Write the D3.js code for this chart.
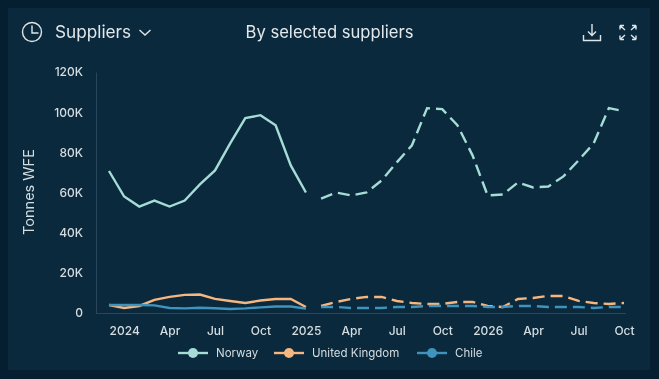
<!DOCTYPE html>
<html>
<head>
<meta charset="utf-8">
<script src="https://d3js.org/d3.v7.min.js"></script>
<style>
    html, body { margin: 0; padding: 0; background: #051f30; }
    svg { display: block; font-family: Inter, sans-serif; filter: blur(0.55px); }
    .domain { stroke: #29465a; }
    .tick text { fill: #d5dde0; }
</style>
</head>
<body>
<svg id="chart" width="659" height="379"></svg>
<script>
const months = [
    "2023-12", "2024-01", "2024-02", "2024-03", "2024-04", "2024-05", "2024-06", "2024-07", "2024-08",
    "2024-09", "2024-10", "2024-11", "2024-12", "2025-01", "2025-02", "2025-03", "2025-04", "2025-05",
    "2025-06", "2025-07", "2025-08", "2025-09", "2025-10", "2025-11", "2025-12", "2026-01", "2026-02",
    "2026-03", "2026-04", "2026-05", "2026-06", "2026-07", "2026-08", "2026-09", "2026-10"
];
const actualMonths = months.slice(0, 14);
const forecastMonths = months.slice(14);

const norwayActual = [70.7, 58, 53, 56, 53, 56, 64, 71, 84.5, 97, 98.5, 93.5, 73.5, 60];
const norwayForecast = [57, 60, 58.5, 60, 66, 75, 83.5, 102, 101.5, 93.5, 78.5, 58.5, 59, 65, 62.5, 63, 68, 76, 84.5, 102, 100.5];
const ukActual = [4, 2.5, 3.5, 6.5, 8, 9, 9.2, 7, 6, 5, 6.2, 7, 7, 3];
const ukForecast = [3.5, 5.5, 7, 8, 8, 6, 5, 4.5, 4.5, 5.5, 5.5, 3.5, 3, 7, 7.5, 8.5, 8.5, 6, 5, 4.5, 5];
const chileActual = [4, 4, 4, 3.8, 2.5, 2.3, 2.6, 2.4, 2, 2.3, 2.8, 3.2, 3.2, 2.2];
const chileForecast = [3, 3, 2.5, 2.5, 2.5, 3, 3, 3.5, 3.5, 3.5, 3.5, 3, 3, 3.5, 3.5, 3, 3, 3, 2.5, 3, 3];

const seriesNames = ["Norway", "United Kingdom", "Chile"];
const seriesColors = ["#a5dcd6", "#f5b77f", "#3f93bd"];
const yTicks = [0, 20, 40, 60, 80, 100, 120];
const xTicks = ["2024-01", "2024-04", "2024-07", "2024-10", "2025-01", "2025-04", "2025-07", "2025-10", "2026-01", "2026-04", "2026-07", "2026-10"];
const xTickLabels = ["2024", "Apr", "Jul", "Oct", "2025", "Apr", "Jul", "Oct", "2026", "Apr", "Jul", "Oct"];

const svg = d3.select("#chart");
const textColor = "#d5dde0";

svg.append("rect")
    .attr("x", 8).attr("y", 8).attr("width", 642).attr("height", 362)
    .attr("fill", "#0a293d");

const x = d3.scalePoint().domain(months).range([109, 624]);
const y = d3.scaleLinear().domain([0, 120]).range([313, 72]);

// Axes
const yAxis = d3.axisLeft(y)
    .tickValues(yTicks)
    .tickSize(0)
    .tickPadding(13)
    .tickFormat(d => d === 0 ? "0" : d + "K");
const yG = svg.append("g").attr("transform", "translate(96,0)").call(yAxis);
yG.selectAll("text").style("font-size", "12px").style("font-weight", 500).style("font-family", "Inter, sans-serif");

const xAxis = d3.axisBottom(x)
    .tickValues(xTicks)
    .tickSize(0)
    .tickPadding(13)
    .tickFormat(d => xTickLabels[xTicks.indexOf(d)]);
const xG = svg.append("g").attr("transform", "translate(0,313)").call(xAxis);
xG.selectAll("text").style("font-size", "12px").style("font-weight", 500).style("font-family", "Inter, sans-serif");
xG.select(".domain").attr("d", "M96,0.5H626");

svg.append("text")
    .attr("transform", "translate(34,192) rotate(-90)")
    .attr("text-anchor", "middle")
    .attr("fill", textColor)
    .style("font-size", "14.5px")
    .text("Tonnes WFE");

// Lines
const line = d3.line()
    .x(d => x(d.month))
    .y(d => y(d.value));

function drawLine(monthList, values, color, dashed) {
    svg.append("path")
        .datum(monthList.map((m, i) => ({ month: m, value: values[i] })))
        .attr("fill", "none")
        .attr("stroke", color)
        .attr("stroke-width", 2.4)
        .attr("stroke-dasharray", dashed ? "12 6" : null)
        .attr("d", line);
}

drawLine(actualMonths, ukActual, seriesColors[1], false);
drawLine(actualMonths, chileActual, seriesColors[2], false);
drawLine(actualMonths, norwayActual, seriesColors[0], false);
drawLine(forecastMonths, ukForecast, seriesColors[1], true);
drawLine(forecastMonths, chileForecast, seriesColors[2], true);
drawLine(forecastMonths, norwayForecast, seriesColors[0], true);

// Legend
const legendX = d3.scaleOrdinal().domain(seriesNames).range([178, 274, 417]);
const legend = svg.selectAll(".legend-item")
    .data(seriesNames)
    .enter()
    .append("g")
    .attr("class", "legend-item")
    .attr("transform", d => `translate(${legendX(d)},353)`);
legend.append("line")
    .attr("x2", 30)
    .attr("stroke", (d, i) => seriesColors[i])
    .attr("stroke-width", 2.4);
legend.append("circle")
    .attr("cx", 15)
    .attr("r", 5)
    .attr("fill", (d, i) => seriesColors[i]);
legend.append("text")
    .attr("x", 38)
    .attr("dy", "0.35em")
    .attr("fill", textColor)
    .style("font-size", "11.5px")
    .text(d => d);

// Header
svg.append("text")
    .attr("x", 55).attr("y", 38)
    .attr("fill", "#e3e8ea")
    .style("font-size", "17.2px")
    .text("Suppliers");
svg.append("text")
    .attr("x", 329.5).attr("y", 38)
    .attr("text-anchor", "middle")
    .attr("fill", "#e3e8ea")
    .style("font-size", "16.6px")
    .text("By selected suppliers");

const icons = svg.append("g")
    .attr("fill", "none")
    .attr("stroke", "#dfe5e7")
    .attr("stroke-width", 1.4);
// clock
icons.append("circle").attr("cx", 32).attr("cy", 32).attr("r", 9.5);
icons.append("path").attr("d", "M32,25.5V33H38.5");
// chevron
icons.append("path").attr("d", "M139.5,30L145,35L150.5,30");
// download
icons.append("path").attr("d", "M583.5,35V40.5H600.5V35M592,24V35.5M588,31.5L592,35.5L596,31.5");
// expand
icons.append("path").attr("d", "M620,25.5H624M620,25.5V29.5M620,25.5L625,30M636,25.5H632M636,25.5V29.5M636,25.5L631,30M620,39.5H624M620,39.5V35.5M620,39.5L625,35M636,39.5H632M636,39.5V35.5M636,39.5L631,35");
</script>
</body>
</html>
